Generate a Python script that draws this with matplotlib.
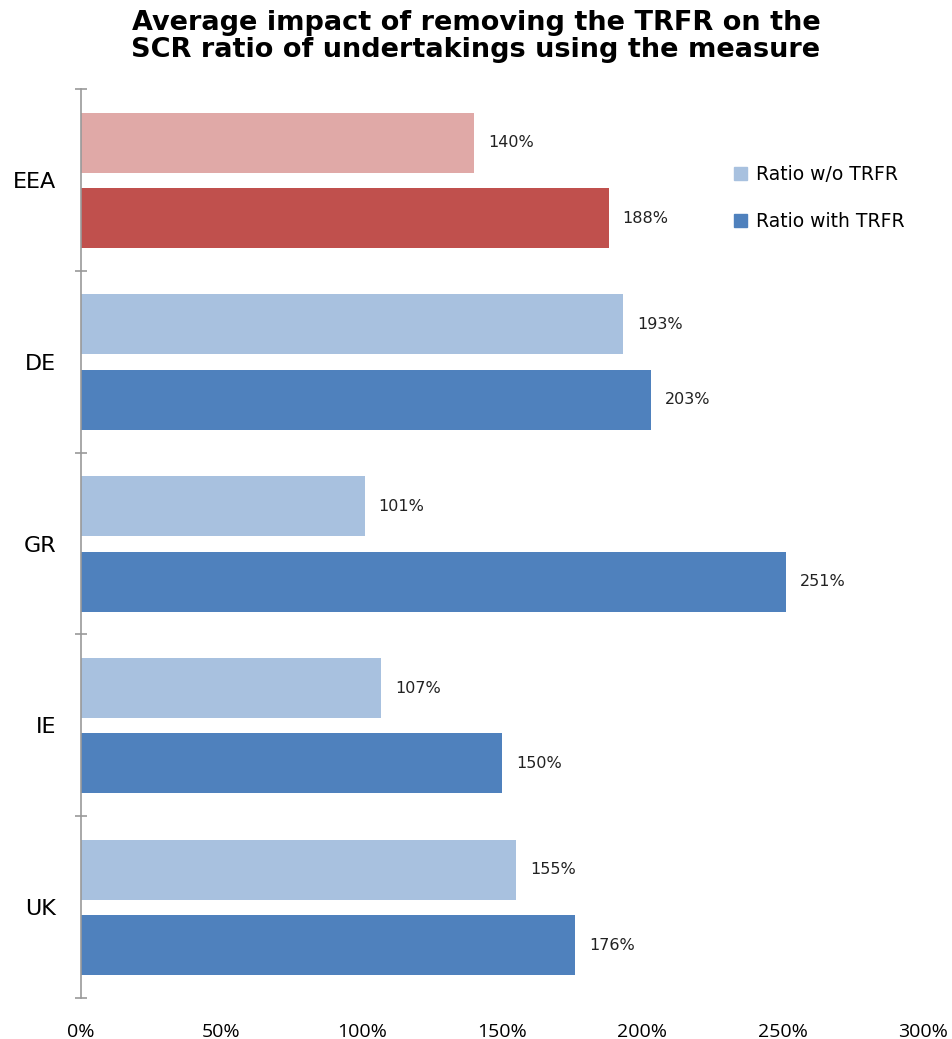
import matplotlib
matplotlib.use('Agg')
import matplotlib.pyplot as plt
from matplotlib.patches import Patch
import numpy as np

# data
categories = ['EEA', 'DE', 'GR', 'IE', 'UK']
ratio_wo_trfr = [140, 193, 101, 107, 155]
ratio_with_trfr = [188, 203, 251, 150, 176]
xticks = [0, 50, 100, 150, 200, 250, 300]

light_cols = ['#E0A9A7'] + ['#A8C1DF'] * 4
dark_cols = ['#C0504D'] + ['#4F81BD'] * 4

fig = plt.figure(figsize=(9.52, 10.39), dpi=100)
ax = fig.add_axes([0.0851, 0.0395, 0.8845, 0.8748])

y = np.arange(len(categories))
h = 0.33
ax.barh(y - 0.205, ratio_wo_trfr, height=h, color=light_cols)
ax.barh(y + 0.21, ratio_with_trfr, height=h, color=dark_cols)

# value labels
for i in range(len(categories)):
    ax.text(ratio_wo_trfr[i] + 5, y[i] - 0.205, f'{ratio_wo_trfr[i]}%',
            va='center', ha='left', fontsize=11.5, color='#222222')
    ax.text(ratio_with_trfr[i] + 5, y[i] + 0.21, f'{ratio_with_trfr[i]}%',
            va='center', ha='left', fontsize=11.5, color='#222222')

ax.set_xlim(0, 300)
ax.set_ylim(4.5, -0.5)

# y axis: ticks between categories, labels centred
ax.set_yticks(np.arange(-0.5, 5, 1))
ax.set_yticklabels([])
ax.set_yticks(y, minor=True)
ax.set_yticklabels(categories, minor=True, fontsize=16)
ax.tick_params(axis='y', which='minor', length=0, pad=18)
ax.tick_params(axis='y', which='major', length=8, direction='inout',
               color='#999999', width=1.2)

ax.set_xticks(xticks)
ax.set_xticklabels([f'{v}%' for v in xticks], fontsize=14, family='Open Sans')
ax.tick_params(axis='x', length=0, pad=18)

for s in ['top', 'right', 'bottom']:
    ax.spines[s].set_visible(False)
ax.spines['left'].set_color('#999999')
ax.spines['left'].set_linewidth(1.2)

handles = [Patch(color='#A8C1DF', label='Ratio w/o TRFR'),
           Patch(color='#4F81BD', label='Ratio with TRFR')]
ax.legend(handles=handles, loc='upper left', bbox_to_anchor=(0.755, 0.935),
          frameon=False, labelspacing=1.5,
          handlelength=0.7, handleheight=0.7, handletextpad=0.5,
          prop={'family': 'DejaVu Sans', 'size': 13.5})

fig.text(0.5, 0.965, 'Average impact of removing the TRFR on the\nSCR ratio of undertakings using the measure',
         ha='center', va='center', fontsize=19.5, fontweight='bold', linespacing=1.05)

fig.savefig('out.png', dpi=100)
